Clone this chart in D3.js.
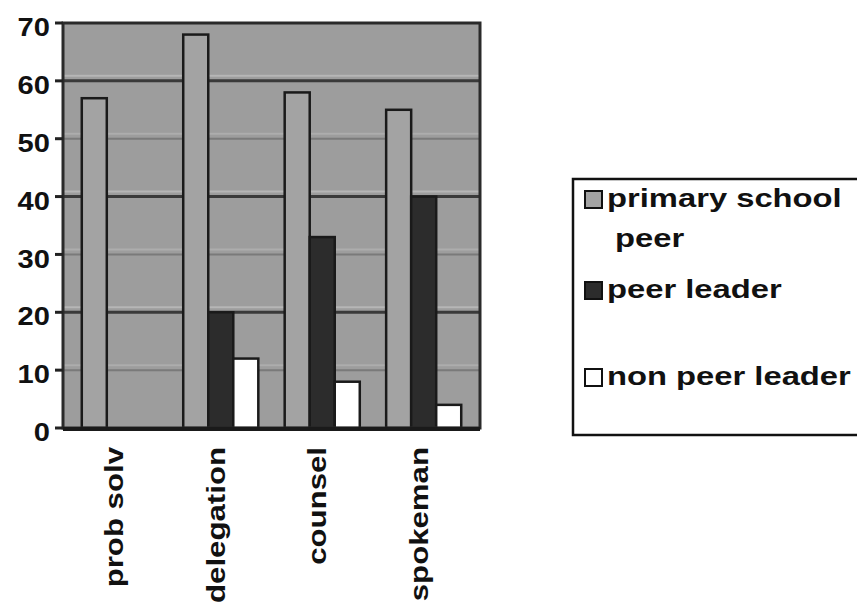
<!DOCTYPE html>
<html>
<head>
<meta charset="utf-8">
<script src="https://cdn.jsdelivr.net/npm/d3@7"></script>
<style>
  html, body { margin: 0; padding: 0; background: #fff; }
  svg { display: block; }
  text { font-family: "Liberation Sans", Arial, sans-serif; font-weight: bold; fill: #111; }
</style>
</head>
<body>
<svg id="chart" width="857" height="606"></svg>
<script>
// ---- data ----
const categories = ["prob solv", "delegation", "counsel", "spokeman"];
const seriesNames = ["primary school peer", "peer leader", "non peer leader"];
const primarySchoolPeer = [57, 68, 58, 55];
const peerLeader = [0, 20, 33, 40];
const nonPeerLeader = [0, 12, 8, 4];
const yTicks = [0, 10, 20, 30, 40, 50, 60, 70];
const legendLines = [["primary school", "peer"], ["peer leader"], ["non peer leader"]];

const seriesValues = [primarySchoolPeer, peerLeader, nonPeerLeader];
const fills = ["#a3a3a3", "#2c2c2c", "#ffffff"];

const svg = d3.select("#chart");
const plot = { left: 63, right: 480, top: 23, bottom: 428 };

const y = d3.scaleLinear().domain([0, 70]).range([plot.bottom, plot.top]);
const x0 = d3.scaleBand().domain(categories).range([plot.left, plot.right])
  .paddingInner(0.26).paddingOuter(0.185);
const x1 = d3.scaleBand().domain(d3.range(seriesNames.length)).range([0, x0.bandwidth()]).padding(0);

// plot background
svg.append("rect")
  .attr("x", plot.left).attr("y", plot.top)
  .attr("width", plot.right - plot.left).attr("height", plot.bottom - plot.top)
  .attr("fill", "#9d9d9d");

// gridlines
const grid = svg.append("g");
yTicks.filter(t => t > 0 && t < 70).forEach(t => {
  const strong = t % 20 === 0;
  grid.append("line")
    .attr("x1", plot.left).attr("x2", plot.right)
    .attr("y1", y(t) - 5).attr("y2", y(t) - 5)
    .attr("stroke", "#bdbdbd").attr("stroke-width", 2).attr("opacity", strong ? 0.8 : 0.5);
  grid.append("line")
    .attr("x1", plot.left).attr("x2", plot.right)
    .attr("y1", y(t)).attr("y2", y(t))
    .attr("stroke", strong ? "#3a3a3a" : "#7a7a7a")
    .attr("stroke-width", strong ? 3 : 2);
});

// bars
const groups = svg.append("g").selectAll("g")
  .data(categories)
  .join("g")
  .attr("transform", d => `translate(${x0(d)},0)`);

groups.selectAll("rect")
  .data((c, ci) => seriesValues.map((vals, si) => ({ si, v: vals[ci] })))
  .join("rect")
  .filter(d => d.v > 0)
  .attr("x", d => x1(d.si))
  .attr("y", d => y(d.v))
  .attr("width", x1.bandwidth())
  .attr("height", d => y(0) - y(d.v))
  .attr("fill", d => fills[d.si])
  .attr("stroke", "#1a1a1a")
  .attr("stroke-width", 2.5);

// plot border
svg.append("rect")
  .attr("x", plot.left).attr("y", plot.top)
  .attr("width", plot.right - plot.left).attr("height", plot.bottom - plot.top)
  .attr("fill", "none").attr("stroke", "#2a2a2a").attr("stroke-width", 3);
svg.append("line")
  .attr("x1", plot.left).attr("x2", plot.right)
  .attr("y1", y(0) + 1).attr("y2", y(0) + 1)
  .attr("stroke", "#1a1a1a").attr("stroke-width", 4);

// y axis ticks and labels
const yAxis = svg.append("g");
yTicks.forEach(t => {
  yAxis.append("line")
    .attr("x1", plot.left - 8).attr("x2", plot.left)
    .attr("y1", y(t)).attr("y2", y(t))
    .attr("stroke", "#222").attr("stroke-width", 3);
  yAxis.append("text")
    .attr("transform", `translate(50,${y(t) + 4}) scale(1.12,1)`)
    .attr("text-anchor", "end")
    .attr("dy", "0.35em")
    .style("font-size", "26px")
    .text(t);
});

// x labels (rotated)
const xAxis = svg.append("g");
categories.forEach(c => {
  const cx = x0(c) + x0.bandwidth() / 2 - 5;
  xAxis.append("text")
    .attr("transform", `translate(${cx},447) rotate(-90) scale(1.2,1)`)
    .attr("text-anchor", "end")
    .attr("dy", "0.35em")
    .style("font-size", "26px")
    .text(c);
});

// legend
const lg = svg.append("g");
lg.append("rect")
  .attr("x", 573).attr("y", 179)
  .attr("width", 300).attr("height", 256)
  .attr("fill", "#fff").attr("stroke", "#111").attr("stroke-width", 2.5);

const legendBaselines = [[207, 247], [298], [385]];
seriesNames.forEach((name, i) => {
  const b0 = legendBaselines[i][0];
  lg.append("rect")
    .attr("x", 585).attr("y", b0 - 16)
    .attr("width", 17).attr("height", 17)
    .attr("fill", fills[i])
    .attr("stroke", "#111").attr("stroke-width", 2);
  legendLines[i].forEach((line, li) => {
    lg.append("text")
      .attr("transform", `translate(${li === 0 ? 607 : 615},${legendBaselines[i][li]}) scale(1.31,1)`)
      .style("font-size", "25px")
      .text(line);
  });
});
</script>
</body>
</html>
